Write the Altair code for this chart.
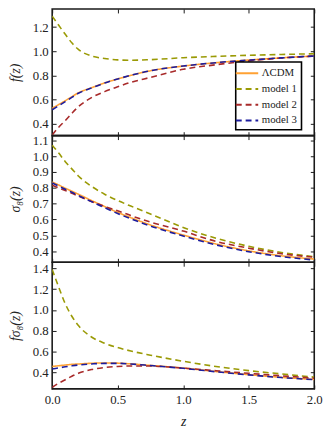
import altair as alt
import pandas as pd

# redshift grid
z = [0.0, 0.05, 0.1, 0.15, 0.2, 0.3, 0.4, 0.5, 0.6, 0.75, 1.0, 1.25, 1.5, 1.75, 2.0]

models = ["ΛCDM", "model 1", "model 2", "model 3"]
colors = ["#ffa133", "#9a9a05", "#a82a2a", "#1c1c9e"]

# f(z)
f_lcdm = [0.527, 0.558, 0.590, 0.623, 0.655, 0.697, 0.737, 0.770, 0.800, 0.838, 0.877, 0.905, 0.927, 0.945, 0.960]
f_m1 = [1.290, 1.215, 1.140, 1.070, 1.015, 0.960, 0.940, 0.928, 0.925, 0.930, 0.946, 0.957, 0.966, 0.973, 0.979]
f_m2 = [0.306, 0.370, 0.425, 0.485, 0.540, 0.615, 0.665, 0.705, 0.742, 0.783, 0.850, 0.888, 0.920, 0.944, 0.960]
f_m3 = [0.515, 0.548, 0.582, 0.617, 0.651, 0.695, 0.736, 0.770, 0.800, 0.838, 0.877, 0.905, 0.926, 0.945, 0.960]

# sigma_8(z)
s8_lcdm = [0.837, 0.818, 0.798, 0.779, 0.760, 0.720, 0.682, 0.645, 0.612, 0.566, 0.502, 0.446, 0.402, 0.371, 0.350]
s8_m1 = [1.070, 1.020, 0.965, 0.920, 0.875, 0.810, 0.760, 0.720, 0.685, 0.635, 0.550, 0.482, 0.431, 0.392, 0.365]
s8_m2 = [0.817, 0.800, 0.783, 0.766, 0.748, 0.714, 0.683, 0.655, 0.625, 0.584, 0.527, 0.462, 0.419, 0.384, 0.362]
s8_m3 = [0.831, 0.811, 0.791, 0.772, 0.752, 0.713, 0.675, 0.638, 0.605, 0.559, 0.496, 0.440, 0.397, 0.366, 0.344]

# f sigma_8(z)
fs8_lcdm = [0.456, 0.463, 0.470, 0.476, 0.480, 0.487, 0.490, 0.488, 0.481, 0.466, 0.441, 0.407, 0.377, 0.351, 0.331]
fs8_m1 = [1.390, 1.220, 1.060, 0.940, 0.850, 0.740, 0.680, 0.638, 0.605, 0.565, 0.506, 0.456, 0.416, 0.384, 0.353]
fs8_m2 = [0.254, 0.295, 0.328, 0.362, 0.390, 0.426, 0.446, 0.456, 0.461, 0.460, 0.440, 0.415, 0.390, 0.366, 0.343]
fs8_m3 = [0.431, 0.442, 0.453, 0.462, 0.470, 0.480, 0.486, 0.486, 0.480, 0.465, 0.438, 0.405, 0.375, 0.349, 0.329]

x_ticks = [0.0, 0.5, 1.0, 1.5, 2.0]
f_ticks = [0.4, 0.6, 0.8, 1.0, 1.2]
s8_ticks = [0.4, 0.5, 0.6, 0.7, 0.8, 0.9, 1.0, 1.1]
fs8_ticks = [0.4, 0.6, 0.8, 1.0, 1.2, 1.4]

series = {
    "ΛCDM": (f_lcdm, s8_lcdm, fs8_lcdm),
    "model 1": (f_m1, s8_m1, fs8_m1),
    "model 2": (f_m2, s8_m2, fs8_m2),
    "model 3": (f_m3, s8_m3, fs8_m3),
}

rows = []
for k, m in enumerate(models):
    fv, sv, fsv = series[m]
    for i, zz in enumerate(z):
        rows.append({"z": zz, "model": m, "ord": k, "f": fv[i], "s8": sv[i], "fs8": fsv[i]})
df = pd.DataFrame(rows)

FONT = "Liberation Serif"
W, H = 267, 129
LX, LY = 187, 54

legend_common = dict(
    orient="none", legendX=LX, legendY=LY, title=None,
    symbolType="M-2,0H2", symbolSize=130, symbolStrokeWidth=2,
    labelFont=FONT, labelFontSize=11, labelColor="#222",
    fillColor="white", strokeColor="black", padding=4.5,
    rowPadding=4, labelOffset=8, cornerRadius=0,
)

color = alt.Color(
    "model:N",
    scale=alt.Scale(domain=models, range=colors),
    legend=alt.Legend(**legend_common),
)
dash = alt.StrokeDash(
    "model:N",
    scale=alt.Scale(domain=models, range=[[1, 0], [6, 4], [6, 4], [6, 4]]),
    legend=alt.Legend(**legend_common),
)


def panel(field, title, domain, ticks, bottom):
    base = alt.Chart(df)
    xs = alt.Scale(domain=[0, 2], nice=False, zero=False)
    ys = alt.Scale(domain=domain, nice=False, zero=False)
    lines = base.mark_line(strokeWidth=1.6, clip=True, interpolate="monotone").encode(
        x=alt.X("z:Q", scale=xs, axis=alt.Axis(
            orient="bottom", values=x_ticks, format=".1f", labels=bottom,
            title="z" if bottom else None, offset=-4, tickSize=4,
            labelPadding=5, titlePadding=8, labelFlush=False)),
        y=alt.Y(f"{field}:Q", scale=ys, axis=alt.Axis(
            orient="left", values=ticks, format=".1f", title=title,
            offset=-4, tickSize=4, labelPadding=4, titlePadding=10)),
        color=color,
        strokeDash=dash,
        order=alt.Order("ord:Q"),
    )
    ghost = base.mark_point(opacity=0).encode(
        x=alt.X("z:Q", scale=xs, axis=alt.Axis(
            orient="top", values=x_ticks, labels=False, title=None,
            offset=-4, tickSize=4)),
        y=alt.Y(f"{field}:Q", scale=ys, axis=alt.Axis(
            orient="right", values=ticks, labels=False, title=None,
            offset=-4, tickSize=4)),
    )
    return alt.layer(lines, ghost).resolve_axis(x="independent", y="independent").properties(
        width=W, height=H)


p1 = panel("f", "f(z)", [0.3, 1.35], f_ticks, False)
p2 = panel("s8", "σ₈(z)", [0.33, 1.13], s8_ticks, False)
p3 = panel("fs8", "fσ₈(z)", [0.24, 1.46], fs8_ticks, True)

chart = alt.vconcat(p1, p2, p3, spacing=0, bounds="flush").properties(
    padding={"left": -1, "top": -5, "right": 5, "bottom": 5}
).configure_view(
    stroke="#1a1a1a", strokeWidth=1.6
).configure_axis(
    domain=False, tickColor="#1a1a1a", tickWidth=1, grid=False,
    labelFont=FONT, labelFontSize=13, labelColor="#222",
    titleFont=FONT, titleFontSize=14, titleFontStyle="italic",
    titleFontWeight="normal", titleColor="#222",
).configure_legend(
    strokeWidth=1.6
)

chart.save("out.html", embed_options={"renderer": "svg", "actions": False})
